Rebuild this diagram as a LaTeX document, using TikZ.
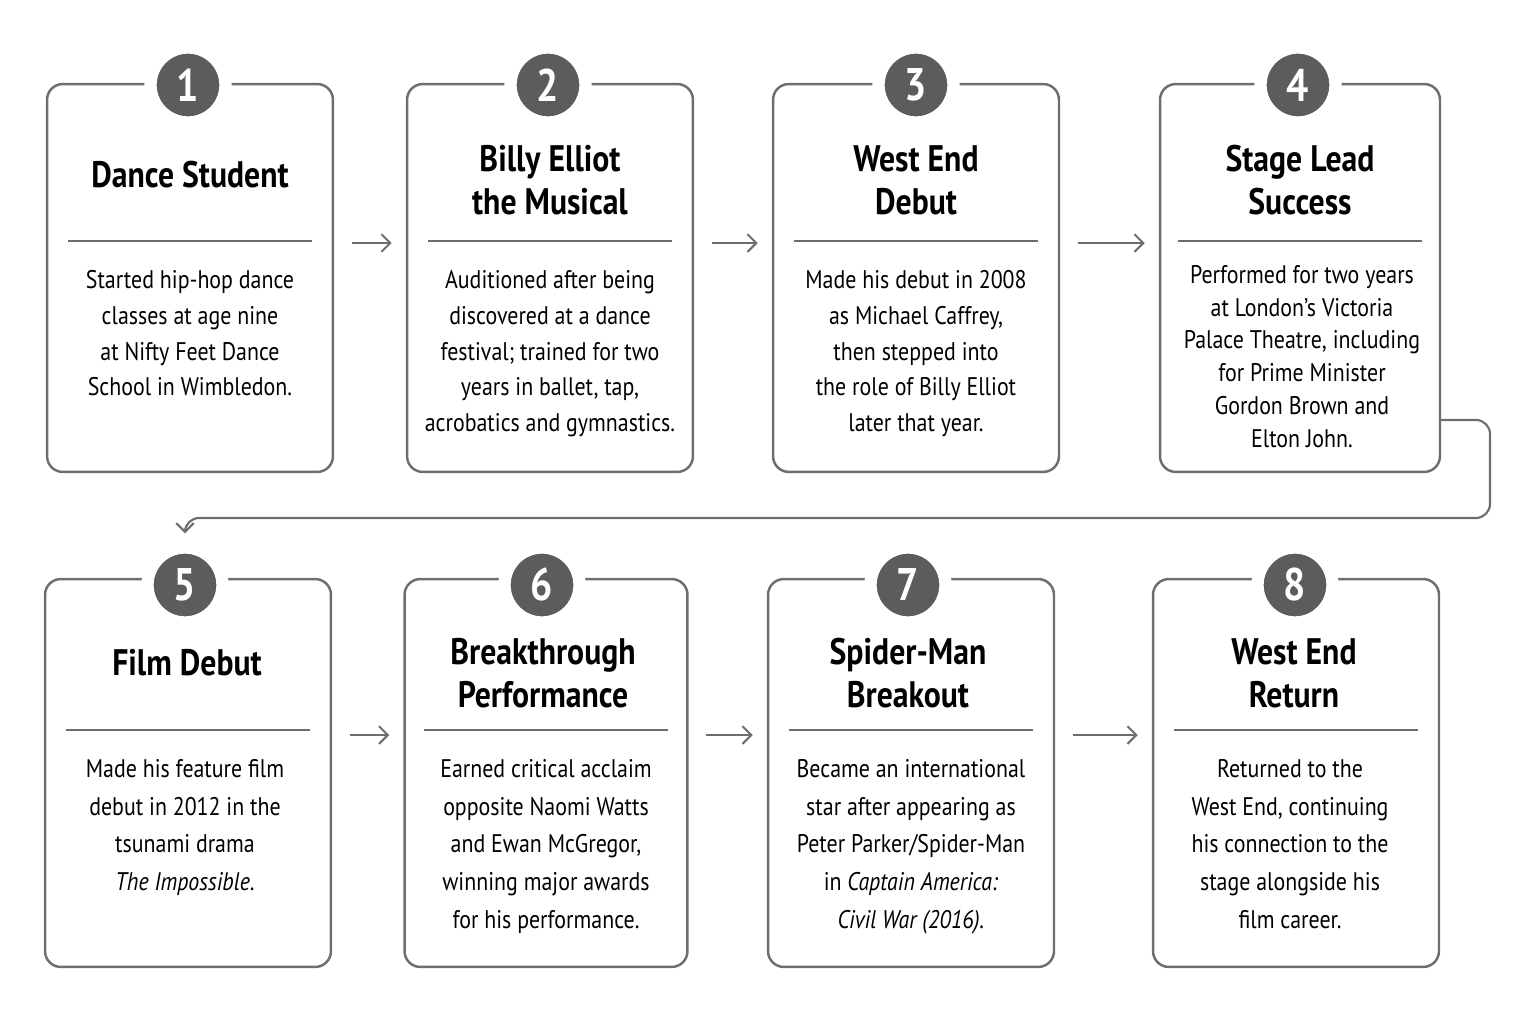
\documentclass[tikz,border=0pt]{standalone}
\usepackage{fontspec}
\setmainfont{PT Sans}[FakeStretch=0.86]
\usetikzlibrary{positioning}
\usetikzlibrary{arrows.meta}
\definecolor{edgegray}{HTML}{6E6E6E}
\definecolor{dotgray}{HTML}{5C5C5C}
\tikzset{
  card/.style={draw=edgegray, line width=1.4pt, rounded corners=9pt, fill=white,
    minimum width=5.72cm, minimum height=7.76cm},
  badge/.style={circle, fill=dotgray, draw=white, line width=7pt, minimum size=1.5cm,
    text=white, font=\fontsize{26}{26}\selectfont\bfseries},
  headline/.style={align=center, font=\fontsize{21}{24.5}\selectfont\bfseries},
  blurb/.style={align=center, anchor=north, font=\fontsize{14.5}{20.4}\selectfont},
  rule/.style={edgegray, line width=0.8pt},
  flow/.style={edgegray, line width=1.2pt, -{Straight Barb[length=5pt,width=10pt]}}
}

\begin{document}
\begin{tikzpicture}[x=0.02cm, y=-0.02cm]
\useasboundingbox (0,0) rectangle (1536,1016);

% TOP ROW %
\node[card] (b1) at (190,278) {};
\node[card] (b2) at (550,278) {};
\node[card] (b3) at (916,278) {};
\node[card, minimum width=5.6cm] (b4) at (1300,278) {};

\foreach \i/\x in {1/188, 2/548, 3/916, 4/1298}
  \node[badge] (n\i) at (\x,85) {\i};

\node[headline] (t1) at (190,175) {Dance Student};
\node[headline] (t2) at (550,180) {Billy Elliot\\the Musical};
\node[headline] (t3) at (916,180) {West End\\Debut};
\node[headline] (t4) at (1300,180) {Stage Lead\\Success};

\foreach \x in {190, 550, 916, 1300}
  \draw[rule] (\x-122,241) -- (\x+122,241);

\node[blurb] (d1) at (190,264) {Started hip-hop dance\\classes at age nine\\at Nifty Feet Dance\\School in Wimbledon.};
\node[blurb] (d2) at (550,264) {Auditioned after being\\discovered at a dance\\festival; trained for two\\years in ballet, tap,\\acrobatics and gymnastics.};
\node[blurb] (d3) at (916,264) {Made his debut in 2008\\as Michael Caffrey,\\then stepped into\\the role of Billy Elliot\\later that year.};
\node[blurb, font=\fontsize{14.5}{18.7}\selectfont] (d4) at (1302,259) {Performed for two years\\at London’s Victoria\\Palace Theatre, including\\for Prime Minister\\Gordon Brown and\\Elton John.};

% BOTTOM ROW %
\node[card] (b5) at (188,773) {};
\node[card, minimum width=5.66cm] (b6) at (546,773) {};
\node[card] (b7) at (911,773) {};
\node[card] (b8) at (1296,773) {};

\foreach \i/\x in {5/185, 6/542, 7/908, 8/1295}
  \node[badge] (n\i) at (\x,585) {\i};

\node[headline] (t5) at (187,663) {Film Debut};
\node[headline] (t6) at (543,673) {Breakthrough\\Performance};
\node[headline] (t7) at (908,673) {Spider-Man\\Breakout};
\node[headline] (t8) at (1294,673) {West End\\Return};

\foreach \x in {188, 546, 911, 1296}
  \draw[rule] (\x-122,730) -- (\x+122,730);

\node[blurb, font=\fontsize{14.5}{21.5}\selectfont] (d5) at (185,753) {Made his feature film\\debut in 2012 in the\\tsunami drama\\\textit{The Impossible}.};
\node[blurb, font=\fontsize{14.5}{21.5}\selectfont] (d6) at (546,753) {Earned critical acclaim\\opposite Naomi Watts\\and Ewan McGregor,\\winning major awards\\for his performance.};
\node[blurb, font=\fontsize{14.5}{21.5}\selectfont] (d7) at (911,753) {Became an international\\star after appearing as\\Peter Parker/Spider-Man\\in \textit{Captain America:}\\\textit{Civil War (2016).}};
\node[blurb, font=\fontsize{14.5}{21.5}\selectfont] (d8) at (1290,753) {Returned to the\\West End, continuing\\his connection to the\\stage alongside his\\film career.};

% arrows
\foreach \a/\b in {1/2, 2/3, 3/4}
  \draw[flow, shorten <=10pt, shorten >=8pt] ([yshift=0.7cm]b\a.east) -- ([yshift=0.7cm]b\b.west);
\foreach \a/\b in {5/6, 6/7, 7/8}
  \draw[flow, shorten <=10pt, shorten >=8pt] ([yshift=0.76cm]b\a.east) -- ([yshift=0.76cm]b\b.west);

\coordinate (turn) at (1490,518);
\draw[flow, rounded corners=8pt] ([yshift=-2.84cm]b4.east) -| (turn) -| ([yshift=0.16cm]n5.north);

\end{tikzpicture}
\end{document}
